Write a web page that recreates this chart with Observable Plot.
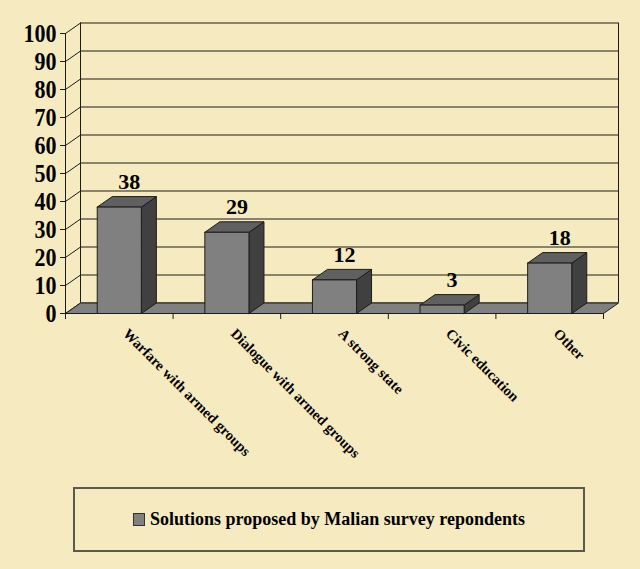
<!DOCTYPE html>
<html><head><meta charset="utf-8">
<script src="https://cdn.jsdelivr.net/npm/d3@7"></script>
<script src="https://cdn.jsdelivr.net/npm/@observablehq/plot@0.6"></script>
<style>
html,body{margin:0;padding:0;background:#f6eac0;}
#wrap{position:relative;width:640px;height:569px;background:#f6eac0;overflow:hidden;}
#legend{position:absolute;left:73px;top:487px;width:508px;height:61px;border:2px solid #5a5a50;display:flex;align-items:center;justify-content:center;font:bold 18px "Liberation Serif","Times New Roman",serif;color:#000;}
#legend .sw{display:inline-block;width:10px;height:11px;background:#808080;border:1px solid #333;margin-right:5px;}
</style></head><body>
<div id="wrap"><div id="chart"></div><div id="legend"><span class="sw"></span><span id="legtext"></span></div></div>
<script>
// ---- data ----
const categories = ["Warfare with armed groups", "Dialogue with armed groups", "A strong state", "Civic education", "Other"];
const values = [38, 29, 12, 3, 18];
const yTicks = [0, 10, 20, 30, 40, 50, 60, 70, 80, 90, 100];
const seriesName = "Solutions proposed by Malian survey repondents";

// ---- layout ----
const W = 640, H = 470, mL = 65, mR = 37, mT = 33, mB = 157;
const DEPTH_X = 15, DEPTH_Y = 10.5;   // pixel depth of the 3D effect
const BAR_FRAC = 0.41;
const n = categories.length;
const pxPerX = (W - mL - mR) / n;
const pxPerY = (H - mT - mB) / 100;
const ddx = DEPTH_X / pxPerX, ddy = DEPTH_Y / pxPerY;

const bars = categories.map((c, i) => ({
  category: c, value: values[i],
  xc: i + 0.5, x0: i + 0.5 - BAR_FRAC / 2, x1: i + 0.5 + BAR_FRAC / 2
}));
const poly = (pts, id) => [...pts, pts[0]].map(([x, y]) => ({x, y, id}));

const frontFaces = bars.flatMap(b => poly([[b.x0, 0], [b.x1, 0], [b.x1, b.value], [b.x0, b.value]], b.category));
const topFaces = bars.flatMap(b => poly([[b.x0, b.value], [b.x1, b.value], [b.x1 + ddx, b.value + ddy], [b.x0 + ddx, b.value + ddy]], b.category));
const sideFaces = bars.flatMap(b => poly([[b.x1, 0], [b.x1 + ddx, ddy], [b.x1 + ddx, b.value + ddy], [b.x1, b.value]], b.category));
const floor = poly([[0, 0], [n, 0], [n + ddx, ddy], [ddx, ddy]], "floor");

const edge = "#1c1c1c";
const face = (data, fill) => Plot.line(data, {x: "x", y: "y", z: "id", fill, stroke: edge, strokeWidth: 1, strokeLinejoin: "miter", curve: "linear"});

const chart = Plot.plot({
  width: W, height: H,
  marginLeft: mL, marginRight: mR, marginTop: mT, marginBottom: mB,
  x: {type: "linear", domain: [0, n], axis: null},
  y: {domain: [0, 100], label: null},
  style: {fontFamily: '"Liberation Serif","Times New Roman",serif', fontSize: "22px", fontWeight: "bold", background: "transparent", color: "#000", overflow: "visible"},
  marks: [
    // back wall
    Plot.ruleY(yTicks, {y: d => d + ddy, x1: ddx, x2: n + ddx, stroke: edge}),
    Plot.ruleX([ddx, n + ddx], {y1: ddy, y2: 100 + ddy, stroke: edge}),
    // left wall
    Plot.link(yTicks, {x1: 0, y1: d => d, x2: ddx, y2: d => d + ddy, stroke: edge}),
    Plot.ruleX([0], {y1: 0, y2: 100, stroke: edge}),
    // floor
    face(floor, "#808080"),
    // bars
    face(sideFaces, "#404040"),
    face(topFaces, "#606060"),
    face(frontFaces, "#808080"),
    // x ticks
    Plot.ruleX(d3.range(n + 1), {y1: 0, y2: -6 / pxPerY, stroke: edge}),
    // value labels
    Plot.text(bars, {x: "xc", y: "value", text: d => String(d.value), dx: 10, dy: -18, lineAnchor: "bottom", fontSize: 22, fontWeight: "bold", fill: "#000", ariaLabel: "value label"}),
    // category labels
    Plot.text(bars, {x: "xc", y: 0, text: "category", rotate: 45, textAnchor: "start", lineAnchor: "bottom", dx: 3, dy: 21, fontSize: 14.5, fontWeight: "bold", fill: "#000", ariaLabel: "category label"}),
    // y axis
    Plot.axisY(yTicks, {tickSize: 5, tickPadding: 4, label: null, stroke: edge, fontSize: 22, fontWeight: "bold"})
  ]
});
document.getElementById("chart").appendChild(chart);
document.getElementById("legtext").textContent = seriesName;

// the reference's bold numerals are slightly taller than Liberation Serif: stretch them vertically around their own centre
d3.select(chart).selectAll("g[aria-label='y-axis tick label'] text, g[aria-label='value label'] text").each(function () {
  const bb = this.getBBox();
  const cy = bb.y + bb.height / 2;
  const t = this.getAttribute("transform") || "";
  this.setAttribute("transform", `${t} translate(0,${cy}) scale(1,1.15) translate(0,${-cy})`.trim());
});
</script>
</body></html>
